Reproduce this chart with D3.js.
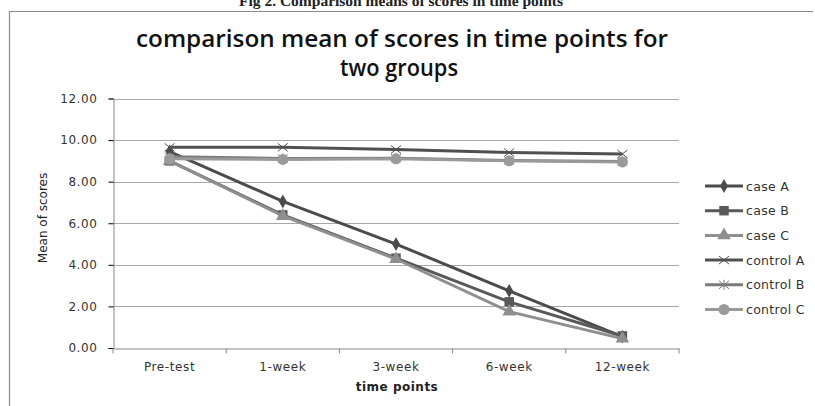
<!DOCTYPE html>
<html>
<head>
<meta charset="utf-8">
<script src="https://cdn.jsdelivr.net/npm/d3@7"></script>
<style>
  body { margin: 0; background: #fff; }
  text { fill: #222; }
</style>
</head>
<body>
<div id="chart"></div>
<script>
// time points and group means
var categories = ["Pre-test", "1-week", "3-week", "6-week", "12-week"];
var caseA = [9.45, 7.05, 5.0, 2.75, 0.55];
var caseB = [9.0, 6.4, 4.32, 2.22, 0.58];
var caseC = [9.0, 6.35, 4.28, 1.75, 0.45];
var controlA = [9.65, 9.65, 9.55, 9.4, 9.33];
var controlB = [9.2, 9.12, 9.13, 9.02, 8.97];
var controlC = [9.1, 9.07, 9.1, 9.0, 8.95];
var yTicks = [0, 2, 4, 6, 8, 10, 12];

var series = [
  {name: "case A", values: caseA, color: "#4b4b4b", marker: "diamond"},
  {name: "case B", values: caseB, color: "#595959", marker: "square"},
  {name: "case C", values: caseC, color: "#8f8f8f", marker: "triangle"},
  {name: "control A", values: controlA, color: "#505050", marker: "cross"},
  {name: "control B", values: controlB, color: "#7a7a7a", marker: "star"},
  {name: "control C", values: controlC, color: "#9a9a9a", marker: "circle"}
];

var width = 815, height = 406;
var svg = d3.select("#chart").append("svg")
    .attr("width", width)
    .attr("height", height);

// caption above the chart box (cut off at the top, as in the scan)
svg.append("text")
    .attr("x", 401).attr("y", 6)
    .attr("text-anchor", "middle")
    .style("font-family", "Liberation Serif")
    .style("font-weight", "bold")
    .style("font-size", "15.5px")
    .text("Fig 2. Comparison means of scores in time points");

// chart box
svg.append("path")
    .attr("d", "M9.5,406 V11.5 H813")
    .attr("fill", "none")
    .attr("stroke", "#8a8a8a")
    .attr("stroke-width", 1.2);

// title
var title = svg.append("text")
    .attr("text-anchor", "middle")
    .style("font-family", "Open Sans")
    .style("font-weight", "600")
    .style("font-size", "23px")
    .style("fill", "#111");
title.append("tspan").attr("x", 402).attr("y", 47)
    .attr("textLength", 532).attr("lengthAdjust", "spacingAndGlyphs")
    .text("comparison mean of scores in time points for");
title.append("tspan").attr("x", 399).attr("y", 76)
    .attr("textLength", 118).attr("lengthAdjust", "spacingAndGlyphs")
    .text("two groups");

var x = d3.scaleBand().domain(categories).range([113, 679]);
var y = d3.scaleLinear().domain([0, 12]).range([348, 98.5]);

// gridlines
svg.append("g").selectAll("line")
    .data(yTicks.slice(1))
    .enter().append("line")
    .attr("x1", 113).attr("x2", 679)
    .attr("y1", function(d) { return Math.round(y(d)) + 0.5; })
    .attr("y2", function(d) { return Math.round(y(d)) + 0.5; })
    .attr("stroke", "#a8a8a8")
    .attr("stroke-width", 1);

// y axis
var yAxis = svg.append("g")
    .attr("transform", "translate(113.5,0)")
    .call(d3.axisLeft(y).tickValues(yTicks).tickSize(5).tickPadding(11)
        .tickFormat(d3.format(".2f")));
yAxis.selectAll("text")
    .style("font-family", "DejaVu Sans")
    .style("font-size", "12px")
    .style("letter-spacing", "0.6px")
    .style("fill", "#333");

// x axis
var xAxis = svg.append("g")
    .attr("transform", "translate(0,348.5)")
    .call(d3.axisBottom(x).tickSize(0).tickPadding(14));
xAxis.selectAll("text")
    .style("font-family", "DejaVu Sans")
    .style("font-size", "12px")
    .style("letter-spacing", "0.6px")
    .style("fill", "#333");
xAxis.selectAll(".tickmark")
    .data(d3.range(categories.length + 1))
    .enter().append("line")
    .attr("x1", function(i) { return 113 + i * x.step(); })
    .attr("x2", function(i) { return 113 + i * x.step(); })
    .attr("y1", 0).attr("y2", 5)
    .attr("stroke", "#888");
svg.selectAll(".domain").attr("stroke", "#888");

// axis titles
svg.append("text")
    .attr("x", 397).attr("y", 391)
    .attr("text-anchor", "middle")
    .style("font-family", "DejaVu Sans")
    .style("font-weight", "bold")
    .style("font-size", "12px")
    .style("letter-spacing", "0.5px")
    .text("time points");
svg.append("text")
    .attr("transform", "translate(47,218) rotate(-90)")
    .attr("text-anchor", "middle")
    .style("font-family", "DejaVu Sans")
    .style("font-size", "12px")
    .text("Mean of scores");

function drawMarker(g, type, color) {
  if (type === "diamond") {
    g.append("path").attr("d", d3.symbol(d3.symbolDiamond, 55)).attr("fill", color);
  } else if (type === "square") {
    g.append("path").attr("d", d3.symbol(d3.symbolSquare, 90)).attr("fill", color);
  } else if (type === "triangle") {
    g.append("path").attr("d", d3.symbol(d3.symbolTriangle, 80)).attr("fill", color);
  } else if (type === "circle") {
    g.append("path").attr("d", d3.symbol(d3.symbolCircle, 95)).attr("fill", color);
  } else if (type === "cross") {
    g.append("path").attr("d", "M-5,-4L5,4M-5,4L5,-4")
      .attr("stroke", color).attr("stroke-width", 1).attr("fill", "none");
  } else if (type === "star") {
    g.append("path").attr("d", "M-5,-4L5,4M-5,4L5,-4M0,-5V5")
      .attr("stroke", color).attr("stroke-width", 1).attr("fill", "none");
  }
}

var line = d3.line()
    .x(function(d, i) { return x(categories[i]) + x.bandwidth() / 2; })
    .y(function(d) { return y(d); });

series.forEach(function(s) {
  svg.append("path")
      .attr("d", line(s.values))
      .attr("fill", "none")
      .attr("stroke", s.color)
      .attr("stroke-width", 3);
  s.values.forEach(function(v, i) {
    var g = svg.append("g")
        .attr("transform", "translate(" + (x(categories[i]) + x.bandwidth() / 2) + "," + y(v) + ")");
    drawMarker(g, s.marker, s.color);
  });
});

// legend
var legend = svg.append("g").selectAll("g")
    .data(series)
    .enter().append("g")
    .attr("transform", function(d, i) { return "translate(705," + (186 + i * 24.7) + ")"; });
legend.append("line")
    .attr("x1", 0).attr("x2", 38)
    .attr("stroke", function(d) { return d.color; })
    .attr("stroke-width", 3);
legend.each(function(d) {
  var g = d3.select(this).append("g").attr("transform", "translate(19,0)");
  drawMarker(g, d.marker, d.color);
});
legend.append("text")
    .attr("x", 41).attr("y", 4.5)
    .style("font-family", "DejaVu Sans")
    .style("font-size", "12.5px")
    .style("letter-spacing", "0.3px")
    .style("fill", "#333")
    .text(function(d) { return d.name; });
</script>
</body>
</html>
